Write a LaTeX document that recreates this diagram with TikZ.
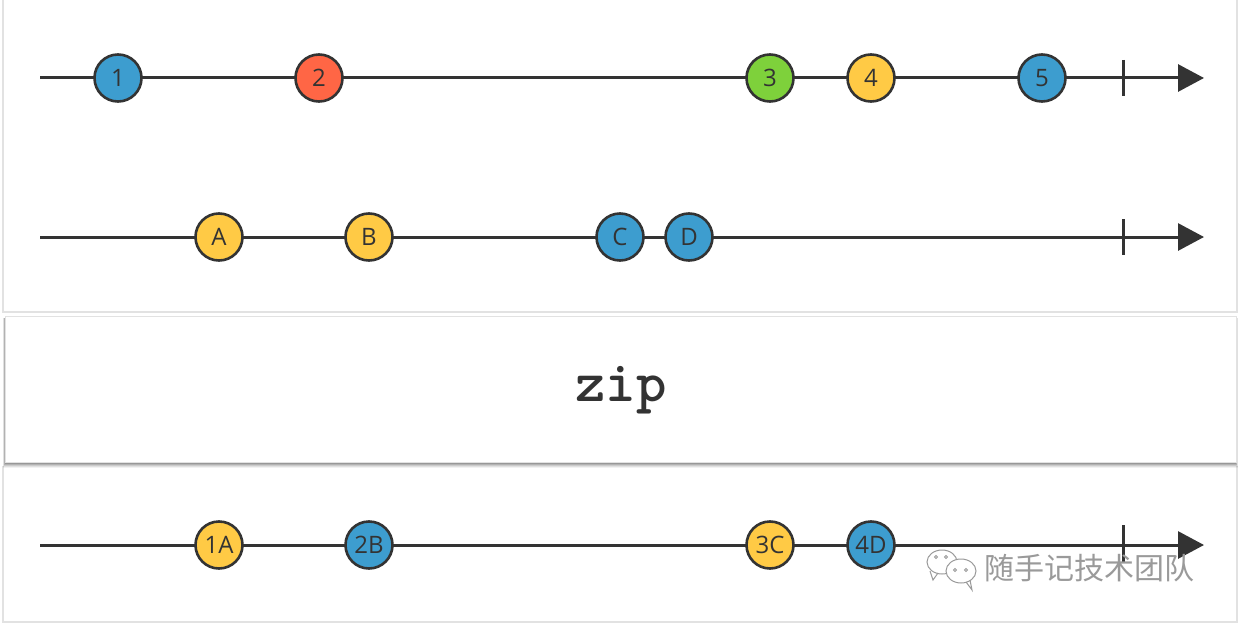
\documentclass[tikz,border=0pt]{standalone}
\usepackage{fontspec}
\setmainfont{Open Sans}
\newfontfamily\cjkfont{Noto Sans CJK SC}
\usetikzlibrary{arrows.meta}
\definecolor{ink}{HTML}{333333}
\definecolor{mblue}{HTML}{3D9DCF}
\definecolor{mred}{HTML}{FF6645}
\definecolor{mgreen}{HTML}{7ED13B}
\definecolor{myellow}{HTML}{FFCA45}
\definecolor{panel}{HTML}{E2E2E2}
\definecolor{wm}{HTML}{9A9A9A}
\tikzset{
  marble/.style={circle,draw=ink,line width=2.6pt,minimum size=47pt,inner sep=0pt,font=\fontsize{24}{24}\selectfont,text=ink},
  axis/.style={draw=ink,line width=3pt,-{Triangle[length=26pt,width=27pt]}},
  tick/.style={draw=ink,line width=3pt},
}
\begin{document}
\begin{tikzpicture}[x=1pt,y=-1pt]
\useasboundingbox (0,0) rectangle (1240,626);
\fill[white] (0,0) rectangle (1240,626);
% panels
\draw[panel,line width=1.5pt] (3,-5) -- (3,312) -- (1237,312) -- (1237,-5);
\draw[panel,line width=1.5pt] (3,466) -- (3,622) -- (1237,622) -- (1237,466);
% shadow of the zip box
\foreach \d/\o in {5/0.05,4/0.07,3/0.09,2/0.12,1/0.15}{
  \fill[black,opacity=\o] (5-\d*0.4,318) rectangle (1236+\d*0.4,463+\d);
}
\node[draw=panel,fill=white,line width=1pt,minimum width=1231pt,minimum height=146pt,inner sep=0pt] (zipbox) at (620.5,389) {};
\node[font=\ttfamily\bfseries\fontsize{58}{58}\selectfont,text=ink] (zip) at (621,390) {zip};
% line 1
\coordinate (s1) at (40,78); \coordinate (e1) at (1204,78);
\draw[axis] (s1) -- (e1);
\coordinate (t1a) at (1123,60); \coordinate (t1b) at (1123,96);
\draw[tick] (t1a) -- (t1b);
\node[marble,fill=mblue] (n1) at (118,78) {1};
\node[marble,fill=mred] (n2) at (319,78) {2};
\node[marble,fill=mgreen] (n3) at (770,78) {3};
\node[marble,fill=myellow] (n4) at (871,78) {4};
\node[marble,fill=mblue] (n5) at (1042,78) {5};
% line 2
\coordinate (s2) at (40,237); \coordinate (e2) at (1204,237);
\draw[axis] (s2) -- (e2);
\coordinate (t2a) at (1123,219); \coordinate (t2b) at (1123,255);
\draw[tick] (t2a) -- (t2b);
\node[marble,fill=myellow] (nA) at (219,237) {A};
\node[marble,fill=myellow] (nB) at (369,237) {B};
\node[marble,fill=mblue] (nC) at (620,237) {C};
\node[marble,fill=mblue] (nD) at (689,237) {D};
% line 3
\coordinate (s3) at (40,545); \coordinate (e3) at (1204,545);
\draw[axis] (s3) -- (e3);
\coordinate (t3a) at (1123,525); \coordinate (t3b) at (1123,563);
\draw[tick] (t3a) -- (t3b);
\node[marble,fill=myellow] (n1A) at (219,545) {1A};
\node[marble,fill=mblue] (n2B) at (369,545) {2B};
\node[marble,fill=myellow] (n3C) at (770,545) {3C};
\node[marble,fill=mblue] (n4D) at (871,545) {4D};
% watermark
\begin{scope}[draw=wm,line width=1pt]
  \draw (942,562) ellipse (15pt and 12pt);
  \draw (930,571) -- (933,580) -- (938,573);
  \fill[white] (961,571) ellipse (15pt and 12pt);
  \draw (961,571) ellipse (15pt and 12pt);
  \draw (966,582) -- (972,590) -- (970,580);
  \draw (936,557) circle (1.5pt); \draw (946,557) circle (1.5pt);
  \draw (955,570) circle (1.5pt); \draw (966,570) circle (1.5pt);
\end{scope}
\node[font=\cjkfont\fontsize{30}{30}\selectfont,text=wm,anchor=west,inner sep=0pt] (wmtext) at (984,568) {随手记技术团队};
\end{tikzpicture}
\end{document}
